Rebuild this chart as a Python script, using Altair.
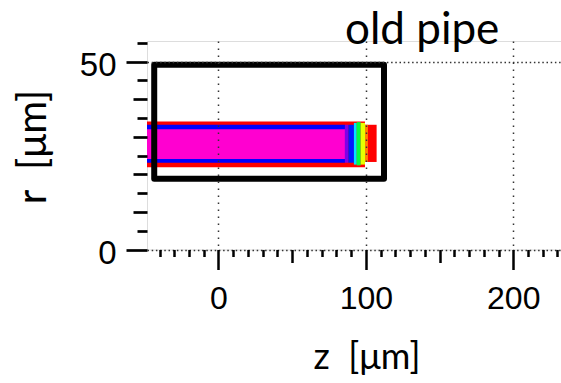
import altair as alt
import pandas as pd

# ---- data -------------------------------------------------------------
# heat-map cells of the pipe contents: z range, r range (µm) and normalised value
cell_z0 = [-48.5, 99.4, -48.5, -48.5, 85.8, 88.1, 91.9, 93.8, 96.5, 99.4]
cell_z1 = [99.4, 107.3, 85.8, 85.8, 88.1, 91.9, 93.8, 96.5, 99.4, 101.4]
cell_r0 = [21.9, 23.3, 23.1, 24.1, 23.1, 23.1, 22.6, 22.4, 22.6, 23.3]
cell_r1 = [34.1, 33.2, 33.2, 32.0, 33.2, 33.2, 33.7, 33.9, 33.7, 33.2]
cell_val = [0.0, 0.0, 0.8, 1.0, 0.9, 0.78, 0.62, 0.45, 0.22, 0.1]

# outline of the old pipe (µm)
pipe_z0 = [-43.6]
pipe_z1 = [112.3]
pipe_r0 = [18.8]
pipe_r1 = [49.2]

# axes
z_domain = [-48.5, 232.4]
r_domain = [0, 55.5]
z_ticks = list(range(-40, 231, 10))
r_ticks = list(range(0, 56, 5))

# colour map stops (red -> yellow -> green -> cyan -> blue -> magenta)
cmap_stops = [0.0, 0.2, 0.4, 0.6, 0.8, 1.0]
cmap_colors = ["#ff0000", "#ffff00", "#00ff00", "#00ffff", "#0000ff", "#ff00d0"]

heat_df = pd.DataFrame({"z0": cell_z0, "z1": cell_z1, "r0": cell_r0, "r1": cell_r1, "v": cell_val})
pipe_df = pd.DataFrame({"z0": pipe_z0, "z1": pipe_z1, "r0": pipe_r0, "r1": pipe_r1})

x_scale = alt.Scale(domain=z_domain, nice=False, zero=False)
y_scale = alt.Scale(domain=r_domain, nice=False, zero=False)

x_axis = alt.Axis(
    values=z_ticks,
    format="d",
    title="z\u00a0\u00a0[μm]",
    titleFont="Lato",
    titleFontSize=36,
    titleFontWeight="normal",
    titleColor="black",
    titleX=219.5,
    titleY=118.5,
    titleAlign="center",
    titleBaseline="alphabetic",
    titleAngle=0,
    labelExpr="datum.value % 100 === 0 ? datum.label : ''",
    labelFont="Liberation Sans",
    labelFontSize=32,
    labelColor="black",
    labelPadding=14,
    labelFlush=False,
    labelOverlap=False,
    domain=False,
    ticks=True,
    tickColor="black",
    tickWidth=2.5,
    tickSize={"condition": [{"test": "datum.value % 100 === 0", "value": 20},
                            {"test": "datum.value % 50 === 0", "value": 13}],
              "value": 7},
    grid=True,
    gridColor="#333333",
    gridWidth=1.5,
    gridDash=[1.5, 5.5],
    gridOpacity={"condition": {"test": "datum.value % 100 === 0", "value": 1}, "value": 0},
    zindex=1,
)

y_axis = alt.Axis(
    values=r_ticks,
    format="d",
    title="r\u00a0\u00a0[μm]",
    titleFont="Lato",
    titleFontSize=40,
    titleFontWeight="normal",
    titleColor="black",
    titleX=-114,
    titleY=105.5,
    titleAngle=270,
    titleAlign="center",
    titleBaseline="middle",
    labelExpr="datum.value % 50 === 0 ? datum.label : ''",
    labelFont="Liberation Sans",
    labelFontSize=33,
    labelColor="black",
    labelPadding=10,
    labelOffset=4,
    labelFlush=False,
    labelOverlap=False,
    labelBaseline="middle",
    domain=False,
    ticks=True,
    tickColor="black",
    tickWidth=2.7,
    tickSize={"condition": [{"test": "datum.value % 50 === 0", "value": 21},
                            {"test": "datum.value % 10 === 0", "value": 14}],
              "value": 10},
    grid=True,
    gridColor="#333333",
    gridWidth=1.5,
    gridDash=[1.5, 2.7],
    gridOpacity={"condition": {"test": "datum.value % 50 === 0", "value": 1}, "value": 0},
    zindex=1,
)

heat = alt.Chart(heat_df).mark_rect(strokeWidth=0).encode(
    x=alt.X("z0:Q", scale=x_scale, axis=x_axis),
    x2="z1:Q",
    y=alt.Y("r0:Q", scale=y_scale, axis=y_axis),
    y2="r1:Q",
    color=alt.Color("v:Q", scale=alt.Scale(domain=cmap_stops, range=cmap_colors, interpolate="rgb"),
                    legend=None),
)

pipe = alt.Chart(pipe_df).mark_rect(
    fill="white", fillOpacity=0, stroke="black", strokeWidth=6, strokeJoin="round"
).encode(
    x=alt.X("z0:Q", scale=x_scale, axis=x_axis),
    x2="z1:Q",
    y=alt.Y("r0:Q", scale=y_scale, axis=y_axis),
    y2="r1:Q",
)

chart = alt.layer(heat, pipe).properties(
    width=414,
    height=208.5,
    autosize=alt.AutoSizeParams(type="none"),
    padding={"left": 147, "top": 41, "right": 0, "bottom": 133.5},
    title=alt.TitleParams(
        "old pipe",
        font="Lato",
        fontSize=44,
        fontWeight="normal",
        color="black",
        anchor="start",
        frame="group",
        dx=198,
        dy=58,
        baseline="alphabetic",
        offset=1,
    ),
).configure_view(stroke=None).configure(background="white")

chart.save("out.html", embed_options={"renderer": "svg", "actions": False})
